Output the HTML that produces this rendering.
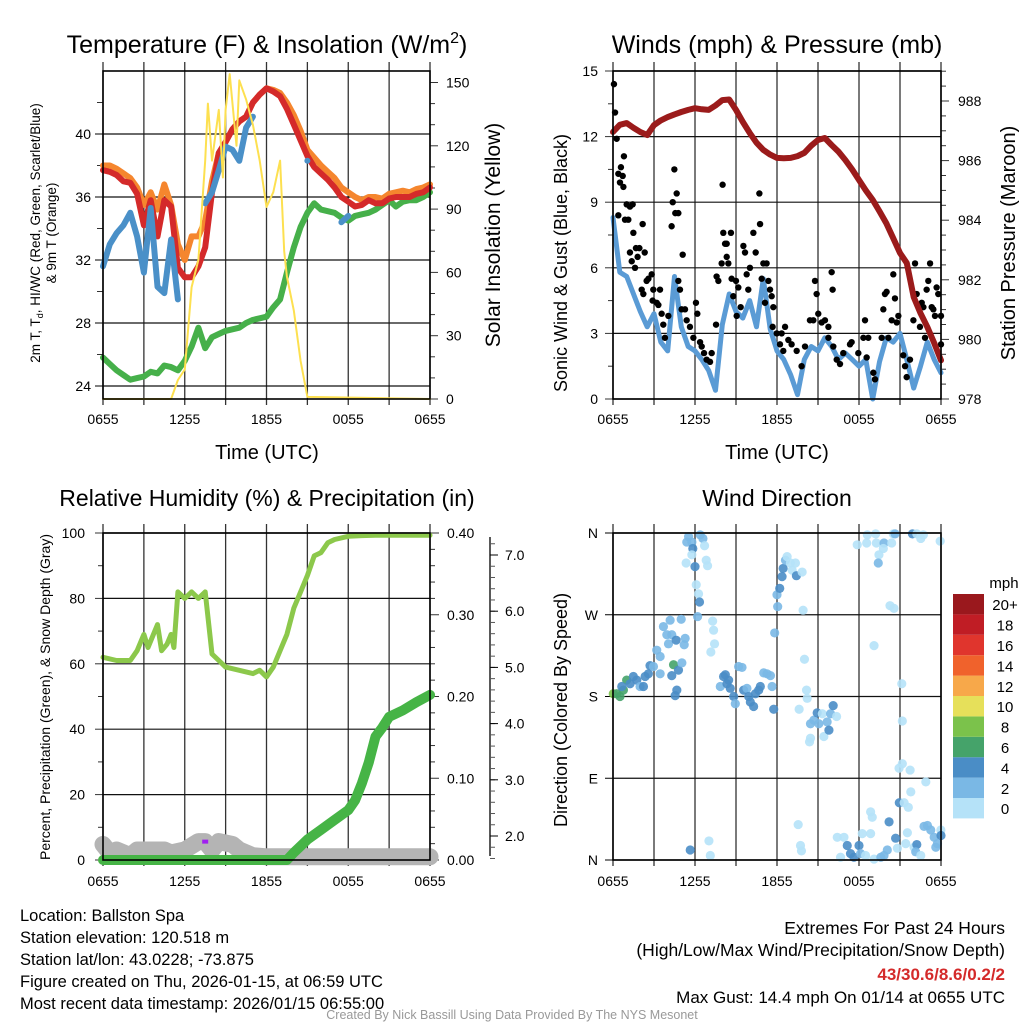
<!DOCTYPE html>
<html><head><meta charset="utf-8"><style>
html,body{margin:0;padding:0;background:#fff;}
svg{display:block;font-family:"Liberation Sans",Arial,sans-serif;}
</style></head><body>
<svg id="c" width="1024" height="1024" viewBox="0 0 1024 1024"></svg>
<script>
// ---------- DATA ----------
const halfHours=[0,0.5,1,1.5,2,2.5,3,3.5,4,4.5,5,5.5,6,6.5,7,7.5,8,8.5,9,9.5,10,10.5,11,11.5,12,12.5,13,13.5,14,14.5,15,15.5,16,16.5,17,17.5,18,18.5,19,19.5,20,20.5,21,21.5,22,22.5,23,23.5,24];
const xTickLabels=["0655","1255","1855","0055","0655"];
const temp2m=[37.7,37.6,37.4,37.0,36.9,36.2,34.2,35.8,33.5,35.8,35.4,31.5,30.9,30.9,31.6,32.8,36.3,38.8,39.5,40.3,40.8,41.1,42.0,42.5,42.9,42.7,42.4,41.6,40.6,39.6,38.6,37.9,37.5,37.1,36.6,36.0,35.7,35.4,35.5,35.8,35.6,35.6,35.9,36.0,36.0,36.0,36.2,36.3,36.6];
const temp9m=[38.0,38.0,37.8,37.5,37.2,36.6,35.5,36.3,35.2,36.8,35.5,33.0,32.0,33.5,33.5,34.5,37.0,38.8,39.5,40.3,40.8,41.1,42.0,42.5,42.9,42.8,42.6,42.0,41.2,40.2,39.0,38.5,38.0,37.6,37.2,36.6,36.3,36.0,35.8,36.0,36.0,35.9,36.2,36.3,36.4,36.3,36.5,36.6,36.8];
const windChill=[31.6,33.0,33.7,34.2,35.0,33.5,31.2,35.3,30.3,29.9,33.3,29.5,null,null,null,35.6,36.3,37.7,39.2,39.0,38.3,40.4,41.1,null,null,null,null,null,null,null,38.3,null,null,null,null,34.4,34.8,null,null,null,null,null,null,null,null,null,null,null,null];
const dewPoint=[25.8,25.4,25.0,24.7,24.4,24.5,24.6,24.9,24.8,25.3,25.2,25.0,25.6,26.5,27.7,26.4,27.1,27.3,27.5,27.6,27.7,28.0,28.2,28.3,28.4,29.0,29.5,31.2,32.8,34.1,35.0,35.6,35.2,35.1,35.0,34.7,34.5,34.8,34.9,35.0,35.2,35.5,35.8,35.4,35.7,35.8,35.8,36.0,36.3];
const solarTimes=[0,5,5.5,6,6.5,7,7.5,7.7,8,8.5,8.8,9,9.3,9.8,10,10.5,11,11.5,12,12.5,13,13.3,13.5,14,14.5,15,24];
const solarVals=[0,0,9,14,53,66,113,140,113,137,105,137,154,120,151,142,130,113,91,98,113,70,58,42,18,1,0];
const tempTicks=[24,28,32,36,40];
const solarTicks=[0,30,60,90,120,150];

const windVals=[8.3,5.8,5.6,4.8,4.0,3.3,3.9,2.6,2.2,5.6,3.3,2.4,2.2,1.8,1.3,0.4,3.4,4.8,4.0,3.7,4.5,3.3,5.5,3.2,2.2,1.8,1.1,0.2,1.8,2.4,2.2,2.8,2.4,1.8,2.1,1.8,1.5,1.8,0.0,1.7,2.8,2.6,3.0,1.8,0.5,1.5,2.6,1.8,1.2];
const pressureVals=[986.96,987.2,987.26,987.1,986.96,986.86,987.19,987.35,987.46,987.55,987.63,987.7,987.76,987.72,987.70,987.85,988.03,988.05,987.70,987.3,986.93,986.6,986.36,986.2,986.09,986.08,986.09,986.15,986.26,986.5,986.69,986.76,986.52,986.3,986.02,985.7,985.35,985.0,984.68,984.3,983.9,983.4,982.9,982.56,981.42,980.88,980.42,979.88,979.3];
const gustTimes=[0.07,0.15,0.27,0.8,0.58,0.39,0.71,0.51,0.76,1.0,1.24,1.44,0.88,1.12,0.39,1.49,1.24,1.68,1.93,2.32,1.37,1.8,1.61,2.17,2.83,2.59,2.46,2.1,2.22,2.95,3.44,2.9,3.2,3.32,3.56,3.68,3.8,4.05,4.29,4.49,4.37,4.66,4.56,4.78,5.1,4.78,4.9,5.02,5.27,5.39,5.63,5.88,6.07,6.17,6.37,6.49,6.66,6.85,7.1,7.22,7.54,7.58,7.71,8.02,8.07,8.2,8.32,8.63,7.95,8.32,8.44,8.68,8.8,9.0,9.17,9.05,9.34,9.54,9.66,9.78,9.9,10.02,10.27,10.44,10.71,10.76,10.88,11.0,11.24,11.37,11.12,11.49,11.61,11.73,11.68,11.98,12.34,12.59,12.22,12.46,12.83,13.07,13.44,13.8,14.05,14.41,14.66,14.78,14.9,15.02,15.27,15.51,15.76,16.0,16.07,15.76,16.12,16.37,16.61,16.85,17.34,17.46,17.95,18.32,18.44,18.56,18.68,19.05,19.17,19.66,19.78,19.9,20.02,20.15,20.39,20.51,20.63,20.76,20.88,21.24,21.37,21.49,21.73,21.98,22.1,22.22,22.46,22.59,22.71,22.83,22.95,23.07,23.2,23.32,23.44,23.56,23.68,23.8,24.0,24.0];
const gustVals=[14.4,13.1,11.9,11.1,10.6,10.3,10.2,9.9,9.7,8.9,8.8,8.9,8.2,8.2,8.4,7.6,6.7,6.9,6.9,6.7,6.3,6.5,6.0,8.0,5.7,5.5,5.4,5.0,4.8,5.0,5.0,4.5,4.4,4.3,3.9,3.4,2.8,3.8,7.9,10.5,9.0,9.4,8.5,8.5,6.6,5.4,5.0,4.1,4.1,3.6,3.3,2.8,4.4,3.9,2.6,2.4,2.1,1.8,1.7,2.1,3.4,5.6,5.4,9.8,7.6,7.1,7.1,7.6,6.2,6.5,6.2,5.5,4.7,5.4,5.1,3.8,4.2,7.0,6.7,5.7,5.0,6.0,7.6,6.7,9.4,8.0,5.5,6.2,6.2,5.4,4.4,5.0,4.7,4.2,3.3,3.0,3.0,3.3,2.5,2.2,2.7,2.5,2.2,1.5,2.4,3.6,3.6,5.4,4.8,3.9,3.5,3.6,3.3,5.8,5.0,2.8,2.4,1.8,1.6,2.1,2.5,2.6,2.1,2.8,3.6,1.9,2.8,1.2,0.9,2.8,4.1,4.8,4.9,2.8,3.6,5.7,4.6,3.5,3.8,2.0,1.5,1.0,1.8,3.6,6.2,4.8,3.3,4.4,4.2,2.8,5.0,5.4,6.2,4.2,4.1,3.8,5.1,4.8,2.5,3.8];
const windTicks=[0,3,6,9,12,15];
const pressureTicks=[978,980,982,984,986,988];

const rhTimes=[0,1,2,2.5,3,3.3,4,4.3,4.7,5,5.2,5.5,6,6.5,7,7.5,8,8.5,9,10,11,11.5,12,12.5,13,13.5,14,14.5,15,15.5,16,16.5,17,18,19,20,24];
const rhVals=[62,61,61,64,69,65,72,64,66,69,65,82,80,82,80,82,63,61,59,58,57,58,56,59,64,69,77,82,87,93,94,97,98,99,99.2,99.3,99.3];
const precipTimes=[0,13.5,14,15,16,17,18,18.5,19,19.5,20,20.5,21,22,23,24];
const precipVals=[0,0,0.009,0.025,0.037,0.049,0.061,0.073,0.094,0.119,0.151,0.162,0.175,0.183,0.193,0.202];
const snowTimes=[0,0.5,1,2,2.5,3.5,4.5,5,6,7,7.5,8,8.5,9.5,10,11,12,24];
const snowVals=[1.85,1.7,1.75,1.65,1.75,1.75,1.75,1.7,1.75,1.9,1.9,1.75,1.9,1.85,1.75,1.65,1.63,1.63];
const rhTicks=[0,20,40,60,80,100];
const precipTicks=[0,0.1,0.2,0.3,0.4];
const snowTicks=[2,3,4,5,6,7];

const dirTimes=[0.02,0.27,0.51,0.76,1.0,0.64,1.25,1.49,1.74,1.98,2.23,2.35,2.59,2.71,2.96,3.2,3.45,3.45,4.43,4.3,4.67,4.55,4.79,5.04,3.69,4.18,3.94,4.06,4.3,4.62,4.99,5.28,5.21,5.53,5.4,5.77,5.84,5.77,5.35,6.0,6.38,6.58,6.7,6.82,6.92,6.09,6.26,6.33,6.19,7.29,7.36,7.43,7.16,5.65,7.02,7.12,7.85,8.09,8.22,8.34,8.46,8.58,8.83,8.95,9.19,9.44,9.56,9.8,9.93,10.05,10.29,10.42,10.66,10.78,11.03,11.27,11.52,11.64,11.76,11.83,12.0,12.05,12.2,12.37,12.45,12.62,12.74,12.98,13.11,13.35,13.42,13.84,13.91,14.01,14.16,14.21,13.62,14.45,14.7,14.94,15.06,15.31,15.43,15.67,15.8,15.92,16.11,16.36,14.38,14.45,13.55,13.72,13.79,16.41,16.9,17.14,17.38,17.63,16.65,18.0,18.24,18.12,18.48,18.85,18.85,18.97,19.1,19.6,19.83,20.07,20.2,20.68,20.81,20.95,21.3,21.61,21.54,21.42,21.79,22.03,22.23,22.15,22.52,22.76,23.01,23.25,23.5,23.62,23.74,23.99,24.0,22.89,21.13,21.17,20.93,21.17,21.74,19.1,17.87,18.61,18.56,19.22,19.27,19.46,19.41,19.83,19.78,20.39,20.51,20.64,20.27,20.56,21.91,22.23,22.52,22.71,23.94];
const dirVals=[183,183,180,187,198,191,194,202,198,191,191,202,205,214,213,231,224,205,215,203,187,181,209,217,257,264,248,238,248,242,265,244,237,356,350,350,343,336,327,323,358,354,346,330,324,303,293,284,268,263,253,238,229,11,21,5,191,202,204,194,198,189,180,172,213,212,187,189,180,174,169,183,187,191,206,205,203,191,166,250,292,279,299,312,321,330,334,327,319,327,313,317,275,221,187,178,166,150,154,162,150,161,136,152,143,161,170,158,130,134,39,16,10,25,25,16,7,3,3,16,29,7,5,29,53,47,1,3,5,11,42,24,13,63,63,58,30,18,75,14,17,9,5,37,38,33,25,14,18,33,27,86,194,153,101,106,99,236,347,358,349,359,349,336,327,349,343,349,359,359,280,277,359,359,354,358,351];
const dirSpeeds=[8.5,7,7,7,7,5,5,5,5,3,5,5,5,5,3,3,3,3,7,5,5,5,5,3,3,3,3,3,3,5,3,3,3,3,3,3,5,1.5,1,5,3,3,1.5,1.5,1,1,1,5,3,1,1,1,1,5,1,1,3,5,5,5,5,5,5,3,3,3,5,3,5,5,5,5,5,5,3,3,3,3,5,3,3,3,5,5,5,3,1.5,1.5,1.5,1.5,5,1.5,1.5,1.5,1.5,1.5,1.5,3,3,5,3,1.5,1.5,3,5,3,5,1.5,1.5,1.5,1,1,1,1,1,5,5,5,1,5,1,3,1,1,1,1,1,3,3,3,5,5,1,5,1,1,1,1,1,1,5,3,1,3,3,3,3,3,3,1,5,1,1,1,1,1,1,1,1,1,1,1,1,1,3,3,1,1,1,3,1,1,5,1,1,1,1,1,1,1,1];
const dirLabels=["N","E","S","W","N"];
const cbLabels=["0","2","4","6","8","10","12","14","16","18","20+"];
const cbColors=["#b5e2f8","#7ab8e5","#4a8dc6","#45a36a","#7bc24b","#e6e05a","#f7a84a","#f0622c","#e0352d","#c01d25","#9a181d"];

// ---------- HELPERS ----------
const NS="http://www.w3.org/2000/svg";
const svg=document.getElementById('c');
function el(tag,attrs,parent){const e=document.createElementNS(NS,tag);for(const k in attrs)e.setAttribute(k,attrs[k]);(parent||svg).appendChild(e);return e;}
function txt(s,x,y,size,anchor,parent,extra){const e=el('text',Object.assign({x:x,y:y,'font-size':size,'text-anchor':anchor||'middle',fill:'#000'},extra||{}),parent);e.textContent=s;return e;}
function linScale(d0,d1,r0,r1){return v=>r0+(v-d0)/(d1-d0)*(r1-r0);}
function polyPts(ts,vs,xs,ys){const segs=[];let cur=[];for(let i=0;i<ts.length;i++){if(vs[i]===null){if(cur.length)segs.push(cur);cur=[];}else cur.push([xs(ts[i]),ys(vs[i])]);}if(cur.length)segs.push(cur);return segs;}
function drawLine(g,ts,vs,xs,ys,color,w,name){
  polyPts(ts,vs,xs,ys).forEach(seg=>{
    if(seg.length===1){const c=el('circle',{cx:seg[0][0],cy:seg[0][1],r:w/2,fill:color},g);
      
      }
    else{const p=el('polyline',{points:seg.map(q=>q[0].toFixed(1)+','+q[1].toFixed(1)).join(' '),fill:'none',stroke:color,'stroke-width':w,'stroke-linejoin':'round','stroke-linecap':'round'},g);
      
      }
  });
}
function frameGrid(g,x0,y0,x1,y1,hY){
  const xs=linScale(0,24,x0,x1);
  for(let h=0;h<=24;h+=3){const x=xs(h);el('line',{x1:x,y1:y0-9,x2:x,y2:y1+6,stroke:'#333','stroke-width':1.3},g);}
  hY.forEach(y=>el('line',{x1:x0,y1:y,x2:x1,y2:y,stroke:'#111','stroke-width':1.2},g));
}
function frame(g,x0,y0,x1,y1){el('rect',{x:x0,y:y0,width:x1-x0,height:y1-y0,fill:'none',stroke:'#000','stroke-width':1.6},g);}
function xLabels(g,x0,x1,y){const xs=linScale(0,24,x0,x1);xTickLabels.forEach((l,i)=>{const t=txt(l,xs(i*6),y,14,'middle',g);});}

// ---------- PANEL 1 ----------
(function(){
  const X0=103,X1=430,Y0=71,Y1=399;
  const g=el('g',{});
  const xs=linScale(0,24,X0,X1), yT=linScale(24,40,386,134), yS=linScale(0,150,399,82.5);
  frameGrid(g,X0,Y0,X1,Y1,tempTicks.map(yT));
  for(let v=26;v<=42;v+=4){el('line',{x1:X0-6,y1:yT(v),x2:X0,y2:yT(v),stroke:'#333'},g);}
  tempTicks.forEach(v=>{el('line',{x1:X0-8,y1:yT(v),x2:X0,y2:yT(v),stroke:'#000'},g);const t=txt(String(v),X0-12,yT(v)+5,14,'end',g);});
  for(let v=0;v<=150;v+=10){el('line',{x1:X1,y1:yS(v),x2:X1+(v%30?5:8),y2:yS(v),stroke:'#333'},g);}
  solarTicks.forEach(v=>{const t=txt(String(v),X1+16,yS(v)+5,14,'start',g);});
  drawLine(g,halfHours,dewPoint,xs,yT,'#46b04a',6,'dewpoint-line');
  drawLine(g,halfHours,temp9m,xs,yT,'#f5862e',6,'temp-9m-line');
  drawLine(g,halfHours,temp2m,xs,yT,'#d42a2a',6,'temp-2m-line');
  drawLine(g,halfHours,windChill,xs,yT,'#4a90c8',6,'windchill-line');
  drawLine(g,solarTimes,solarVals,xs,yS,'#fde050',2,'solar-line');
  frame(g,X0,Y0,X1,Y1);
  xLabels(g,X0,X1,424);
  let t=el('text',{x:267,y:53,'font-size':25,'text-anchor':'middle'},g);t.innerHTML='Temperature (F) &amp; Insolation (W/m<tspan dy="-10" font-size="16">2</tspan><tspan dy="10">)</tspan>';
  
  t=txt('Time (UTC)',267,459,20,'middle',g);
  t=el('text',{transform:'translate(40,233) rotate(-90)','font-size':13.5,'text-anchor':'middle'},g);t.innerHTML='2m T, T<tspan dy="3" font-size="9">d</tspan><tspan dy="-3">, HI/WC (Red, Green, Scarlet/Blue)</tspan>';
  
  t=el('text',{transform:'translate(56,233) rotate(-90)','font-size':13.5,'text-anchor':'middle'},g);t.textContent='& 9m T (Orange)';
  
  t=el('text',{transform:'translate(500,235) rotate(-90)','font-size':21,'text-anchor':'middle'},g);t.textContent='Solar Insolation (Yellow)';
  
})();

// ---------- PANEL 2 ----------
(function(){
  const X0=613,X1=941,Y0=71,Y1=399;
  const g=el('g',{});
  const xs=linScale(0,24,X0,X1), yW=linScale(0,15,399,71), yP=linScale(978,988,399,101);
  frameGrid(g,X0,Y0,X1,Y1,windTicks.map(yW));
  for(let v=0;v<=15;v+=1.5){el('line',{x1:X0-(v%3?5:8),y1:yW(v),x2:X0,y2:yW(v),stroke:'#333'},g);}
  windTicks.forEach(v=>{const t=txt(String(v),X0-15,yW(v)+5,14,'end',g);});
  for(let v=978;v<=989;v+=0.5){el('line',{x1:X1,y1:yP(v),x2:X1+(v%2?5:8),y2:yP(v),stroke:'#333'},g);}
  pressureTicks.forEach(v=>{const t=txt(String(v),X1+17,yP(v)+5,14,'start',g);});
  drawLine(g,halfHours,windVals,xs,yW,'#5a9bd5',5,'sonic-wind-line');
  gustTimes.forEach((tt,i)=>{const c=el('circle',{cx:xs(tt),cy:yW(gustVals[i]),r:3.2,fill:'#000'},g);
    
    });
  drawLine(g,halfHours,pressureVals,xs,yP,'#9b1b1b',6,'pressure-line');
  frame(g,X0,Y0,X1,Y1);
  xLabels(g,X0,X1,424);
  let t=txt('Winds (mph) & Pressure (mb)',777,53,25,'middle',g);
  t=txt('Time (UTC)',777,459,20,'middle',g);
  t=el('text',{transform:'translate(567,263) rotate(-90)','font-size':18,'text-anchor':'middle'},g);t.textContent='Sonic Wind & Gust (Blue, Black)';
  
  t=el('text',{transform:'translate(1015,243) rotate(-90)','font-size':20,'text-anchor':'middle'},g);t.textContent='Station Pressure (Maroon)';
  
})();

// ---------- PANEL 3 ----------
(function(){
  const X0=103,X1=430,Y0=533,Y1=860;
  const g=el('g',{});
  const xs=linScale(0,24,X0,X1), yR=linScale(0,100,860,533), yPr=linScale(0,0.4,860,533), ySn=linScale(2,7,836,555);
  frameGrid(g,X0,Y0,X1,Y1,rhTicks.map(yR));
  for(let v=0;v<=100;v+=10){el('line',{x1:X0-(v%20?5:8),y1:yR(v),x2:X0,y2:yR(v),stroke:'#333'},g);}
  rhTicks.forEach(v=>{const t=txt(String(v),X0-18,yR(v)+5,14,'end',g);});
  for(let v=0;v<=0.401;v+=0.02){el('line',{x1:X1,y1:yPr(v),x2:X1+(Math.round(v*100)%10?5:9),y2:yPr(v),stroke:'#333'},g);}
  precipTicks.forEach(v=>{const t=txt(v.toFixed(2),X1+17,yPr(v)+5,14,'start',g);});
  el('line',{x1:490,y1:Y0+4,x2:490,y2:Y1-4,stroke:'#000','stroke-width':1.3},g);
  for(let v=1.6;v<=7.4;v+=0.2){el('line',{x1:490,y1:ySn(v),x2:495,y2:ySn(v),stroke:'#555'},g);}
  snowTicks.forEach(v=>{el('line',{x1:490,y1:ySn(v),x2:498,y2:ySn(v),stroke:'#000'},g);const t=txt(v.toFixed(1),505,ySn(v)+5,14,'start',g);});
  drawLine(g,snowTimes,snowVals,xs,ySn,'#b4b4b4',17,'snow-depth-line');
  const pd=el('rect',{x:xs(7.5)-3,y:ySn(1.9)-2,width:6,height:4,fill:'#a020f0'},g);
  drawLine(g,rhTimes,rhVals,xs,yR,'#8cc84b',5,'rh-line');
  drawLine(g,precipTimes,precipVals,xs,yPr,'#46b446',10,'precip-line');
  frame(g,X0,Y0,X1,Y1);
  xLabels(g,X0,X1,886);
  let t=txt('Relative Humidity (%) & Precipitation (in)',267,506,23,'middle',g);
  t=el('text',{transform:'translate(50,697) rotate(-90)','font-size':14,'text-anchor':'middle'},g);t.textContent='Percent, Precipitation (Green), & Snow Depth (Gray)';
  
})();

// ---------- PANEL 4 ----------
(function(){
  const X0=613,X1=941,Y0=533,Y1=860;
  const g=el('g',{});
  const xs=linScale(0,24,X0,X1), yD=linScale(0,360,860,533);
  frameGrid(g,X0,Y0,X1,Y1,[0,90,180,270,360].map(yD));
  dirLabels.forEach((l,i)=>{el('line',{x1:X0-8,y1:yD(i*90),x2:X0,y2:yD(i*90),stroke:'#000'},g);const t=txt(l,X0-15,yD(i*90)+5,14,'end',g);});
  function col(s){if(s===undefined)s=1;return cbColors[Math.min(10,Math.floor(s/2))];}
  dirTimes.forEach((tt,i)=>{const c=el('circle',{cx:xs(tt),cy:yD(dirVals[i]),r:4.6,fill:col(dirSpeeds[i]),'fill-opacity':0.9},g);
    
    });
  frame(g,X0,Y0,X1,Y1);
  xLabels(g,X0,X1,886);
  let t=txt('Wind Direction',777,506,23,'middle',g);
  t=el('text',{transform:'translate(567,710) rotate(-90)','font-size':18,'text-anchor':'middle'},g);t.textContent='Direction (Colored By Speed)';
  
  const cb=el('g',{});
  const bh=20.4, top=594;
  cbColors.forEach((c,i)=>{const y=top+(10-i)*bh;const r=el('rect',{x:953,y:y,width:31,height:bh,fill:c},cb);
    
    
    const tl=txt(cbLabels[i],1005,y+bh/2+6,15,'middle',cb);});
  t=txt('mph',1004,588,15,'middle',cb);
})();

// ---------- FOOTER ----------
(function(){
  const g=el('g',{});
  const left=["Location: Ballston Spa","Station elevation: 120.518 m","Station lat/lon: 43.0228; -73.875","Figure created on Thu, 2026-01-15, at 06:59 UTC","Most recent data timestamp: 2026/01/15 06:55:00"];
  left.forEach((s,i)=>{const t=txt(s,20,921+i*22,16.5,'start',g);});
  let t=txt('Extremes For Past 24 Hours',1005,934,17.5,'end',g);
  t=txt('(High/Low/Max Wind/Precipitation/Snow Depth)',1005,956,17.5,'end',g);
  t=txt('43/30.6/8.6/0.2/2',1005,980,17,'end',g,{fill:'#d42a2a','font-weight':'bold'});
  t=txt('Max Gust: 14.4 mph On 01/14 at 0655 UTC',1005,1003,17,'end',g);
  t=txt('Created By Nick Bassill Using Data Provided By The NYS Mesonet',512,1019,12.5,'middle',g,{fill:'#999'});
})();
</script>
</body></html>
